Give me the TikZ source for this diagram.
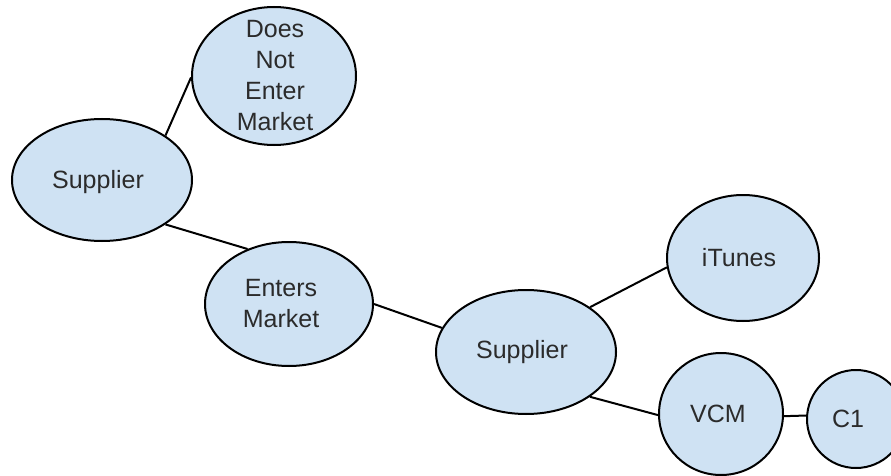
\documentclass[tikz,border=0pt]{standalone}
\usepackage{fontspec}
\setmainfont{Liberation Sans}
\usetikzlibrary{shapes.geometric}
\definecolor{nodefill}{HTML}{CFE2F3}
\definecolor{txt}{HTML}{2B2B2B}
\tikzset{
  bubble/.style={ellipse, draw=black, line width=2pt, fill=nodefill, inner sep=0pt},
  words/.style={text=txt, align=center, inner sep=0pt, font=\fontsize{25}{31}\selectfont},
  link/.style={draw=black, line width=2pt}
}
\begin{document}
\begin{tikzpicture}[x=1pt,y=-1pt]
\useasboundingbox (0,0) rectangle (891,476);
\begin{scope}
\clip (0,0) rectangle (891,476);
\node[bubble, minimum width=164pt, minimum height=138pt] (dnem) at (274,76) {};
\node[bubble, minimum width=180pt, minimum height=122pt] (s1) at (102,180) {};
\node[bubble, minimum width=168pt, minimum height=124pt] (ent) at (289,304) {};
\node[bubble, minimum width=180pt, minimum height=124pt] (s2) at (526,352) {};
\node[bubble, minimum width=152pt, minimum height=126pt] (itu) at (743,258) {};
\node[bubble, minimum width=124pt, minimum height=122pt] (vcm) at (721,414) {};
\node[bubble, minimum width=98pt, minimum height=98pt] (c1) at (856,419) {};
\node[words] (dnem-t) at ([xshift=1pt]dnem.center) {Does\\Not\\Enter\\Market};
\node[words] (s1-t) at ([xshift=-4pt,yshift=-2pt]s1.center) {Supplier};
\node[words] (ent-t) at ([xshift=-8pt]ent.center) {Enters\\Market};
\node[words] (s2-t) at ([xshift=-4pt]s2.center) {Supplier};
\node[words] (itu-t) at ([xshift=-4pt]itu.center) {iTunes};
\node[words] (vcm-t) at ([xshift=-3pt]vcm.center) {VCM};
\node[words] (c1-t) at ([xshift=-8pt]c1.center) {C1};
\draw[link] (s1.35) -- (dnem.181);
\draw[link] (s1.-35) -- (ent.127);
\draw[link] (ent.0) -- (s2.164.6);
\draw[link] (s2.35) -- (itu.187.5);
\draw[link] (s2.-35) -- (vcm.181);
\draw[link] (vcm.-2) -- (c1.176);
\end{scope}
\end{tikzpicture}
\end{document}
